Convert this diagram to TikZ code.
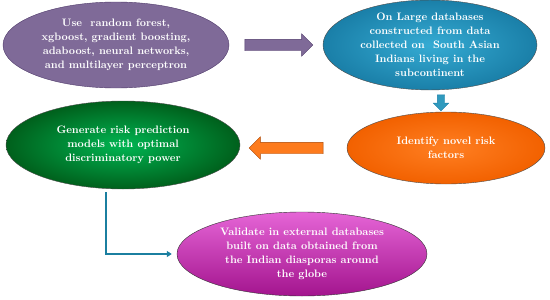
\documentclass[tikz,border=0pt]{standalone}
\usetikzlibrary{shapes.geometric,shapes.arrows,arrows.meta}
\definecolor{purp}{HTML}{7F6A98}
\definecolor{purpdark}{HTML}{4F3A6A}
\definecolor{tealb}{HTML}{1A7FA8}
\definecolor{tealc}{HTML}{35ABD3}
\definecolor{orng}{HTML}{F26100}
\definecolor{orngc}{HTML}{FF7F22}
\definecolor{grn}{HTML}{00601C}
\definecolor{grnc}{HTML}{00B552}
\definecolor{mag}{HTML}{A3148E}
\definecolor{magc}{HTML}{E565D6}
\definecolor{elbow}{HTML}{1B7FA0}
\begin{document}
\begin{tikzpicture}[x=1pt,y=-1pt, every node/.style={font=\fontsize{10.8}{14}\selectfont\bfseries,text=white},
  blob/.style={ellipse,inner sep=0pt,align=center,thin},
  blockarrow/.style={single arrow,inner xsep=0pt,single arrow head extend=5.5pt,draw,thin}]
\useasboundingbox (0,0) rectangle (550,300);
\node[blob,draw=purpdark,fill=purp,minimum width=226pt,minimum height=86pt] (methods) at (116,45) {Use\ \ random forest,\\ xgboost, gradient boosting,\\ adaboost, neural networks,\\ and multilayer perceptron};
\node[blob,draw=black!70,inner color=tealc,outer color=tealb,minimum width=214pt,minimum height=86pt] (data) at (430,45) {On Large databases\\ constructed from data\\ collected on\ \ South Asian\\ Indians living in the\\ subcontinent};
\node[blob,draw=black!70,inner color=orngc,outer color=orng,minimum width=198pt,minimum height=72pt] (novel) at (446,148) {Identify novel risk\\ factors};
\node[blob,draw=black!70,inner color=grnc,outer color=grn,minimum width=234pt,minimum height=88pt] (models) at (123,145) {Generate risk prediction\\ models with optimal\\ discriminatory power};
\node[blob,draw=black!80,top color=magc,bottom color=mag,minimum width=250pt,minimum height=84pt] (valid) at (302,254) {Validate in external databases\\ built on data obtained from\\ the Indian diasporas around\\ the globe};
% block arrows between the ellipses
\node[blockarrow,draw=purpdark,fill=purp,inner ysep=5.5pt,minimum height=68pt] (a1) at (276,45) {};
\node[blockarrow,draw=tealb,fill=tealc!90!black,inner ysep=3.5pt,single arrow head extend=4pt,minimum height=16pt,rotate=-90] (a2) at (441,101) {};
\node[blockarrow,draw=orng!70!black,fill=orngc!85!orng,inner ysep=5.5pt,minimum height=74pt,shape border rotate=180] (a3) at (289,148) {};
\coordinate (drop) at (106,192);
\draw[elbow,line width=2pt,-{Triangle[length=5pt,width=6pt]},shorten >=5pt] (drop) |- (valid.west);
\end{tikzpicture}
\end{document}
